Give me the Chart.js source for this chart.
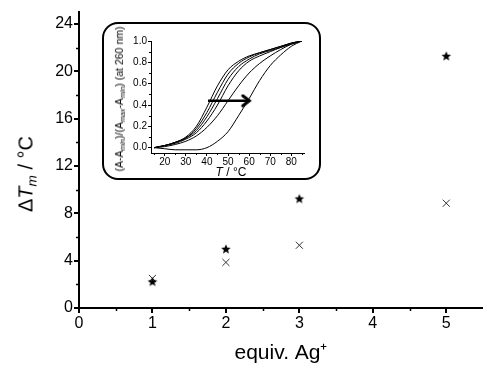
<!DOCTYPE html>
<html>
<head>
<meta charset="utf-8">
<script src="https://cdn.jsdelivr.net/npm/chart.js@4"></script>
<style>
    body { margin: 0; background: #fff; font-family: "Liberation Sans", Arial, sans-serif; }
    #wrap { position: relative; width: 483px; height: 366px; overflow: hidden; }
    #main { position: absolute; left: 0; top: 0; }
    #caixa {
        position: absolute; left: 102px; top: 22px; width: 215px; height: 154px;
        border: 2px solid #000; border-radius: 16px; background: #fff;
    }
    #inset { position: absolute; left: 103px; top: 23px; }
    .rot { position: absolute; white-space: nowrap; transform: translate(-50%, -50%) rotate(-90deg); color: #000; }
    .lbl { position: absolute; white-space: nowrap; transform: translate(-50%, -50%); color: #000; }
    .sub { font-size: 0.68em; vertical-align: -0.3em; }
</style>
</head>
<body>
<div id="wrap">
    <canvas id="main" width="489" height="366"></canvas>
    <div id="caixa"></div>
    <canvas id="inset" width="217" height="156"></canvas>
    <div class="rot" style="left:27px; top:174px; font-size:20px;">&Delta;<i>T</i><span class="sub"><i>m</i></span> / &deg;C</div>
    <div class="rot" style="left:120px; top:99px; font-size:10.5px;">(A-A<span class="sub"><i>min</i></span>)/(A<span class="sub"><i>max</i></span>-A<span class="sub"><i>min</i></span>) (at 260 nm)</div>
    <div class="lbl" style="left:231px; top:172px; font-size:12px;"><i>T</i> / &deg;C</div>
</div>
<script>
// gráfico principal
const equiv = [1, 2, 3, 5];
const dTmEstrela = [2.25, 5.0, 9.25, 21.3];
const dTmCruz = [2.5, 3.85, 5.3, 8.85];
const ticksX = [0, 1, 2, 3, 4, 5];
const ticksY = [0, 4, 8, 12, 16, 20, 24];
const minorX = [0.5, 1.5, 2.5, 3.5, 4.5];
const minorY = [2, 6, 10, 14, 18, 22];

// inset: curvas de fusão
const temperatura = [15, 20, 25, 30, 35, 40, 45, 50, 55, 60, 65, 70, 75, 80, 85];
const curva1 = [0, 0.02, 0.05, 0.10, 0.20, 0.38, 0.58, 0.73, 0.81, 0.86, 0.89, 0.92, 0.95, 0.98, 1.0];
const curva2 = [0, 0.02, 0.05, 0.09, 0.18, 0.33, 0.52, 0.69, 0.79, 0.85, 0.89, 0.92, 0.95, 0.98, 1.0];
const curva3 = [0, 0.02, 0.05, 0.09, 0.16, 0.29, 0.46, 0.64, 0.76, 0.83, 0.88, 0.91, 0.94, 0.98, 1.0];
const curva4 = [0, 0.02, 0.04, 0.08, 0.14, 0.25, 0.40, 0.58, 0.72, 0.81, 0.86, 0.90, 0.94, 0.97, 1.0];
const curva5 = [0, 0.01, 0.03, 0.06, 0.11, 0.19, 0.30, 0.44, 0.58, 0.70, 0.79, 0.86, 0.92, 0.97, 1.0];
const curva6 = [0, -0.01, -0.02, -0.02, -0.02, 0.0, 0.06, 0.15, 0.30, 0.46, 0.63, 0.77, 0.87, 0.95, 1.0];
const setaX = [40.5, 60.3];
const setaY = [0.44, 0.44];
const ticksTx = [20, 30, 40, 50, 60, 70, 80];
const ticksTy = [0, 0.2, 0.4, 0.6, 0.8, 1.0];
const minorTx = [15, 25, 35, 45, 55, 65, 75, 85];
const minorTy = [0.1, 0.3, 0.5, 0.7, 0.9];

const fonte = "'Liberation Sans', Arial, sans-serif";

function estrela(r) {
    const c = document.createElement("canvas");
    c.width = c.height = r * 2 + 2;
    const g = c.getContext("2d");
    g.fillStyle = "#000";
    g.beginPath();
    for (let i = 0; i < 10; i++) {
        const rr = i % 2 === 0 ? r : r * 0.45;
        const ang = -Math.PI / 2 + i * Math.PI / 5;
        const px = r + 1 + rr * Math.cos(ang);
        const py = r + 1 + rr * Math.sin(ang) + 0.6;
        if (i === 0) g.moveTo(px, py); else g.lineTo(px, py);
    }
    g.closePath();
    g.fill();
    return c;
}

function pontaSeta() {
    // ponta ">" com a ponta no centro da imagem
    const c = document.createElement("canvas");
    c.width = 20; c.height = 14;
    const g = c.getContext("2d");
    g.strokeStyle = "#000";
    g.lineWidth = 3;
    g.lineCap = "round";
    g.beginPath();
    g.moveTo(3, 2);
    g.lineTo(9.5, 7);
    g.lineTo(3, 12);
    g.stroke();
    return c;
}

const minorTicks = {
    id: "minorTicks",
    afterDraw(chart, args, opts) {
        const ctx = chart.ctx;
        const sx = chart.scales.x, sy = chart.scales.y;
        ctx.save();
        ctx.strokeStyle = "#000";
        ctx.lineWidth = opts.width;
        opts.x.forEach(v => {
            const p = Math.round(sx.getPixelForValue(v)) + 0.5;
            ctx.beginPath();
            ctx.moveTo(p, sx.top);
            ctx.lineTo(p, sx.top + opts.len);
            ctx.stroke();
        });
        opts.y.forEach(v => {
            const p = Math.round(sy.getPixelForValue(v)) + 0.5;
            ctx.beginPath();
            ctx.moveTo(sy.right, p);
            ctx.lineTo(sy.right - opts.len, p);
            ctx.stroke();
        });
        ctx.restore();
    }
};

function eixo(min, max, ticks, fmt, tamanho, tickLen, largura, extra) {
    return Object.assign({
        type: "linear",
        min: min,
        max: max,
        afterBuildTicks: s => { s.ticks = ticks.map(v => ({ value: v })); },
        grid: { display: true, drawOnChartArea: false, drawTicks: true, tickLength: tickLen, color: "#000", lineWidth: largura },
        border: { display: true, color: "#000", width: largura },
        ticks: { color: "#000", font: { family: fonte, size: tamanho }, padding: 1, maxRotation: 0, autoSkip: false, callback: fmt }
    }, extra);
}

new Chart(document.getElementById("main"), {
    type: "scatter",
    data: {
        datasets: [
            {
                label: "estrela",
                data: equiv.map((x, i) => ({ x: x, y: dTmEstrela[i] })),
                pointStyle: estrela(5),
                pointRadius: 5
            },
            {
                label: "cruz",
                data: equiv.map((x, i) => ({ x: x, y: dTmCruz[i] })),
                pointStyle: "crossRot",
                pointRadius: 5,
                borderColor: "#333",
                borderWidth: 1
            }
        ]
    },
    plugins: [minorTicks],
    options: {
        responsive: false,
        animation: false,
        layout: { padding: { left: 0, top: 12, right: 0, bottom: 0 } },
        plugins: {
            legend: { display: false },
            tooltip: { enabled: false },
            minorTicks: { x: minorX, y: minorY, len: 3, width: 1.5 }
        },
        scales: {
            x: eixo(0, 5.5, ticksX, v => v, 16, 5, 2, {
                afterFit: s => { s.height = 58; },
                title: { display: true, text: "equiv. Ag\u207A", color: "#000", font: { family: fonte, size: 21 }, padding: { top: 11, bottom: 0 } }
            }),
            y: eixo(0, 25, ticksY, v => v, 16, 5, 2, {
                afterFit: s => { s.width = 79; }
            })
        }
    }
});

const cinza = { borderColor: "#000", borderWidth: 1, pointRadius: 0, fill: false, tension: 0.4, cubicInterpolationMode: "monotone" };
const curvas = [curva1, curva2, curva3, curva4, curva5, curva6];

new Chart(document.getElementById("inset"), {
    type: "line",
    data: {
        datasets: curvas.map((c, k) => Object.assign({
            label: "c" + k,
            data: temperatura.map((t, i) => ({ x: t, y: c[i] }))
        }, cinza)).concat([{
            label: "seta",
            data: setaX.map((x, i) => ({ x: x, y: setaY[i] })),
            borderColor: "#000",
            borderWidth: 2.5,
            pointStyle: [false, pontaSeta()],
            pointRadius: [0, 6],
            fill: false
        }])
    },
    plugins: [minorTicks],
    options: {
        responsive: false,
        animation: false,
        layout: { padding: { left: 0, top: 18, right: 16, bottom: 0 } },
        plugins: {
            legend: { display: false },
            tooltip: { enabled: false },
            minorTicks: { x: minorTx, y: minorTy, len: 2, width: 1 }
        },
        scales: {
            x: eixo(13.5, 86, ticksTx, v => v, 10, 3, 1, {
                afterFit: s => { s.height = 26; },
                ticks: { color: "#000", font: { family: fonte, size: 10 }, padding: 0, maxRotation: 0, autoSkip: false, callback: v => v }
            }),
            y: eixo(-0.05, 1.0, ticksTy, v => v.toFixed(1), 10, 3, 1, {
                afterFit: s => { s.width = 48; }
            })
        }
    }
});
</script>
</body>
</html>
